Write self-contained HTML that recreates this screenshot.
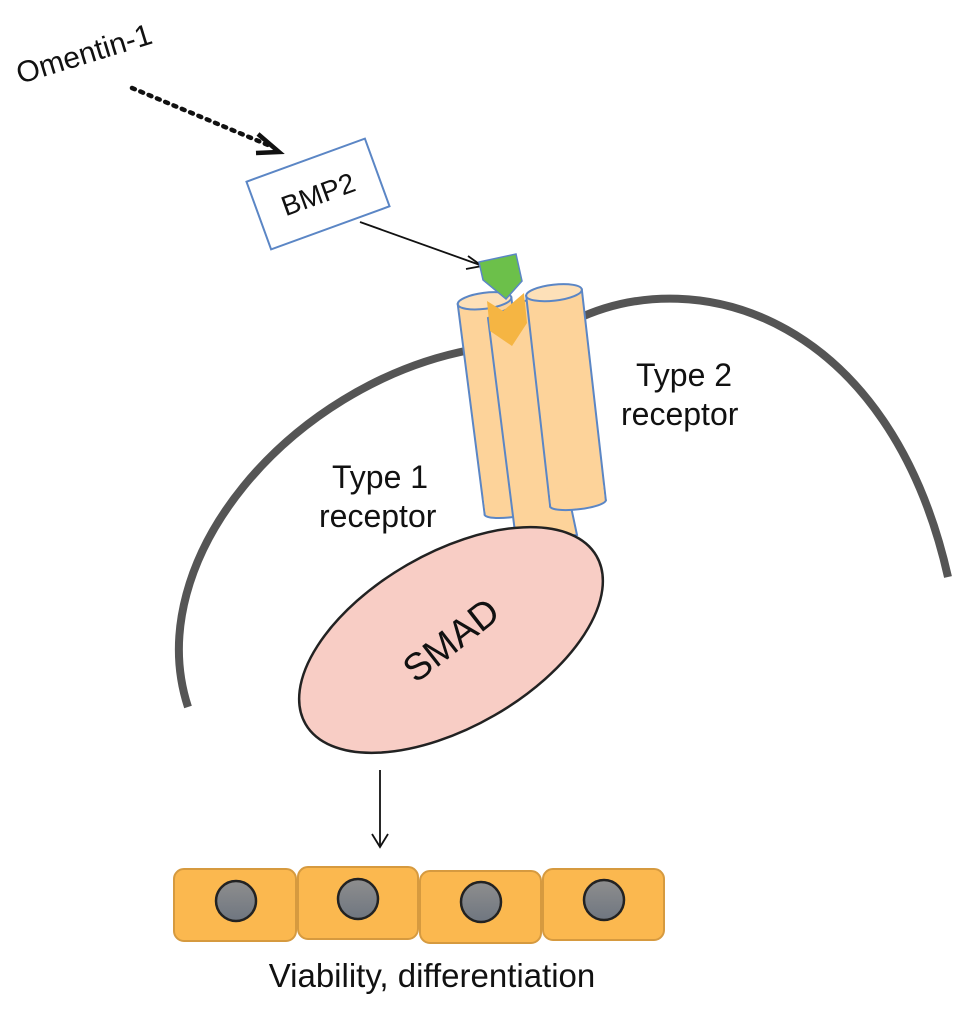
<!DOCTYPE html>
<html><head><meta charset="utf-8"><style>
html,body{margin:0;padding:0;background:#fff;}
svg{display:block;}
text{font-family:"Liberation Sans",sans-serif;fill:#111;}
</style></head><body>
<svg width="969" height="1012" viewBox="0 0 969 1012" xmlns="http://www.w3.org/2000/svg">
<rect width="969" height="1012" fill="#fff"/>
<!-- membrane -->
<path d="M188,707 C140,560 290,385 470,350" fill="none" stroke="#555" stroke-width="8"/>
<path d="M575,320 C700,260 890,320 948,577" fill="none" stroke="#555" stroke-width="8"/>

<!-- Omentin -->
<text x="20" y="84" font-size="30" transform="rotate(-17 20 84)">Omentin-1</text>
<line x1="132" y1="88" x2="268" y2="145" stroke="#111" stroke-width="4.5" stroke-dasharray="3 6" stroke-linecap="round"/>
<path d="M258,134 L279,152 L256,153" fill="none" stroke="#111" stroke-width="4.5"/>

<!-- BMP2 -->
<g transform="translate(318,194) rotate(-20)">
<rect x="-63" y="-36" width="126" height="72" fill="#fff" stroke="#5b86c5" stroke-width="2"/>
<text x="0" y="10" font-size="28" text-anchor="middle">BMP2</text>
</g>
<line x1="360" y1="222" x2="480" y2="265" stroke="#111" stroke-width="1.8"/>
<path d="M468,256 L482,266 L466,269" fill="none" stroke="#111" stroke-width="1.8"/>

<!-- receptors -->
<g transform="translate(498,406) rotate(-7.3)">
<rect x="-27" y="-106" width="54" height="212" fill="#fdd39a" stroke="#5b86c5" stroke-width="2"/>
<ellipse cx="0" cy="106" rx="27" ry="6" fill="#fdd39a" stroke="#5b86c5" stroke-width="2"/>
<rect x="-26" y="90" width="52" height="16" fill="#fdd39a"/>
<ellipse cx="0" cy="-106" rx="27" ry="8" fill="#fde0b8" stroke="#5b86c5" stroke-width="2"/>
</g>
<path d="M488,318 L527,300 L577,535 L516,540 Z" fill="#fdd39a" stroke="#5b86c5" stroke-width="2"/>
<g transform="translate(566,398) rotate(-6.5)">
<rect x="-28" y="-106" width="56" height="212" fill="#fdd39a" stroke="#5b86c5" stroke-width="2"/>
<ellipse cx="0" cy="106" rx="28" ry="6" fill="#fdd39a" stroke="#5b86c5" stroke-width="2"/>
<rect x="-27" y="90" width="54" height="16" fill="#fdd39a"/>
<ellipse cx="0" cy="-106" rx="28" ry="8" fill="#fde0b8" stroke="#5b86c5" stroke-width="2"/>
</g>
<!-- ligand -->
<polygon points="479,262 516,254 522,281 506,299 483,280" fill="#6cc04a" stroke="#5b86c5" stroke-width="1.5"/>
<polygon points="487,301 503,311 524,293 527,323 512,346 490,331" fill="#f5b543"/>

<!-- SMAD -->
<ellipse cx="451" cy="640" rx="168" ry="87" transform="rotate(-30 451 640)" fill="#f8cdc5" stroke="#222" stroke-width="2.5"/>
<text x="451" y="653" font-size="38" text-anchor="middle" transform="rotate(-38 451 640)">SMAD</text>

<text x="636" y="386" font-size="32">Type 2</text>
<text x="621" y="425" font-size="32">receptor</text>
<text x="332" y="488" font-size="32">Type 1</text>
<text x="319" y="527" font-size="32">receptor</text>

<!-- down arrow -->
<line x1="380" y1="770" x2="380" y2="846" stroke="#111" stroke-width="1.8"/>
<path d="M372,834 L380,847 L388,834" fill="none" stroke="#111" stroke-width="1.8"/>

<!-- cells -->
<defs><linearGradient id="g" x1="0" y1="0" x2="0" y2="1"><stop offset="0" stop-color="#8e8e8e"/><stop offset="1" stop-color="#6f7680"/></linearGradient></defs>
<g fill="#fbb84f" stroke="#d69a3f" stroke-width="2">
<rect x="174" y="869" width="122" height="72" rx="10"/>
<rect x="298" y="867" width="120" height="72" rx="10"/>
<rect x="420" y="871" width="121" height="72" rx="10"/>
<rect x="543" y="869" width="121" height="71" rx="10"/>
</g>
<g fill="url(#g)" stroke="#222" stroke-width="2.5">
<circle cx="236" cy="901" r="20"/>
<circle cx="358" cy="899" r="20"/>
<circle cx="481" cy="902" r="20"/>
<circle cx="604" cy="900" r="20"/>
</g>
<text x="432" y="987" font-size="33" text-anchor="middle">Viability, differentiation</text>
</svg>
</body></html>
